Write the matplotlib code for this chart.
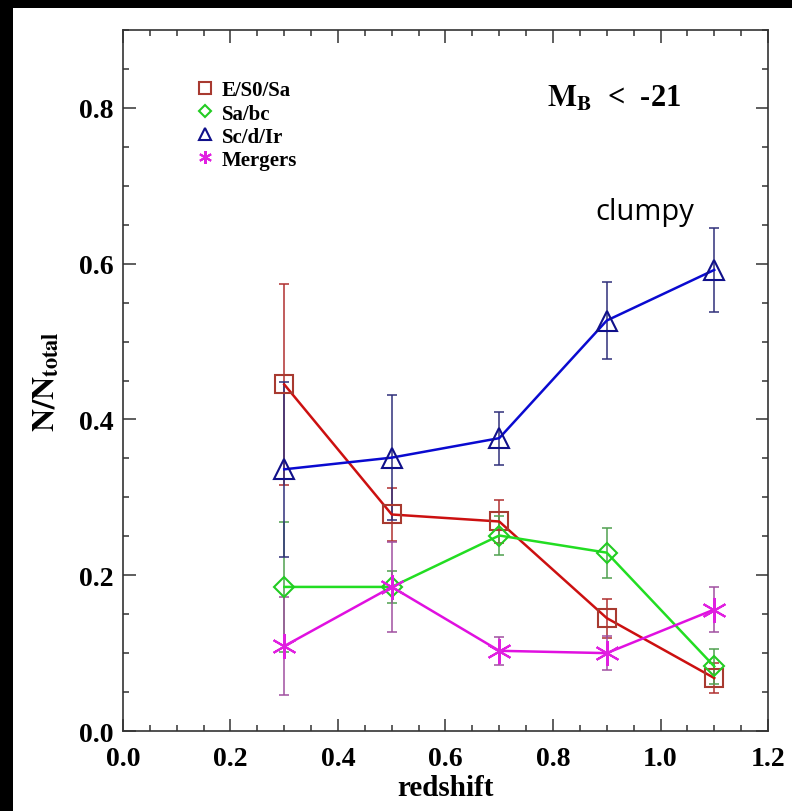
import matplotlib
matplotlib.use('Agg')
import matplotlib.pyplot as plt
from matplotlib.patches import Rectangle
import numpy as np

# DATA
redshift = [0.3, 0.5, 0.7, 0.9, 1.1]

es0sa = [0.445, 0.278, 0.269, 0.145, 0.068]
es0sa_err = [0.129, 0.034, 0.027, 0.025, 0.019]

sabc = [0.185, 0.185, 0.251, 0.229, 0.083]
sabc_err = [0.083, 0.020, 0.025, 0.032, 0.022]

scdir = [0.336, 0.351, 0.376, 0.527, 0.592]
scdir_err = [0.112, 0.080, 0.034, 0.049, 0.054]

mergers = [0.109, 0.185, 0.103, 0.100, 0.156]
mergers_err = [0.063, 0.058, 0.018, 0.022, 0.029]

labels = ['E/S0/Sa', 'Sa/bc', 'Sc/d/Ir', 'Mergers']

plt.rcParams['font.family'] = 'Liberation Serif'
plt.rcParams['font.weight'] = 'bold'
plt.rcParams['mathtext.fontset'] = 'stix'

fig = plt.figure(figsize=(7.92, 8.12), dpi=100, facecolor='black')
# white page on black background
fig.add_artist(Rectangle((13 / 792, 0), 1 - 13 / 792, 803 / 812,
                         transform=fig.transFigure, facecolor='white',
                         edgecolor='none', zorder=-10))
ax = fig.add_axes([0.1553, 0.0985, 0.8144, 0.8633])
ax.set_facecolor('white')

# series: values, errors, line colour, marker colour, errorbar colour, marker, size
series = [
    (es0sa, es0sa_err, '#cc1010', '#a83a30', '#b03030', 's', 13),
    (sabc, sabc_err, '#22dd22', '#22cc22', '#50a050', 'D', 10),
    (scdir, scdir_err, '#0a0ad0', '#10108a', '#30307a', '^', 15),
    (mergers, mergers_err, '#e010e0', '#e020e0', '#a050a0', (6, 2, 0), 18),
]

handles = []
for (vals, errs, lc, mc, ec, mk, ms), lab in zip(series, labels):
    ax.errorbar(redshift, vals, yerr=errs, fmt='none', ecolor=ec,
                elinewidth=1.1, capsize=3.6, capthick=1.1, zorder=2)
    ax.plot(redshift, vals, color=lc, lw=1.8, zorder=3)
    ax.plot(redshift, vals, linestyle='none', marker=mk, ms=ms,
            mfc='none', mec=mc, mew=1.5, zorder=4)
    h, = ax.plot([], [], linestyle='none', marker=mk, ms=min(ms, 15) * 0.62,
                 mfc='none', mec=mc, mew=1.5, label=lab)
    handles.append(h)

ax.legend(handles=handles, loc='upper left', bbox_to_anchor=(0.098, 0.943),
          frameon=False, borderpad=0, handlelength=0.8, handletextpad=0.4,
          labelspacing=0.15, prop={'family': 'Liberation Serif',
                                   'weight': 'bold', 'size': 15})

ax.text(0.789, 0.813, r'$\mathbf{M_B}$  <  -21', fontsize=22,
        fontweight='bold', va='center', ha='left')
ax.text(0.971, 0.667, 'clumpy', fontsize=21, family='Open Sans',
        fontweight='normal', ha='center', va='center')

ax.set_xlim(0, 1.2)
ax.set_ylim(0, 0.9)
ax.set_xticks(np.arange(0, 1.21, 0.2))
ax.set_yticks(np.arange(0, 0.81, 0.2))
ax.set_xticks(np.arange(0, 1.2001, 0.05), minor=True)
ax.set_yticks(np.arange(0, 0.9001, 0.05), minor=True)
ax.set_xticklabels(['0.0', '0.2', '0.4', '0.6', '0.8', '1.0', '1.2'])
ax.set_yticklabels(['0.0', '0.2', '0.4', '0.6', '0.8'])

ax.tick_params(which='both', direction='in', top=True, right=True,
               color='#333333', width=1.1, labelsize=20)
ax.tick_params(which='major', length=9)
ax.tick_params(which='minor', length=4.5)
ax.tick_params(axis='x', pad=11)
ax.tick_params(axis='y', pad=7)
for sp in ax.spines.values():
    sp.set_color('#333333')
    sp.set_linewidth(1.2)

ax.set_xlabel('redshift', fontsize=21, fontweight='bold', labelpad=2)
ax.set_ylabel(r'$\mathbf{N/N_{total}}$', fontsize=23, labelpad=12)

fig.savefig('out.png', dpi=100, facecolor='black')
